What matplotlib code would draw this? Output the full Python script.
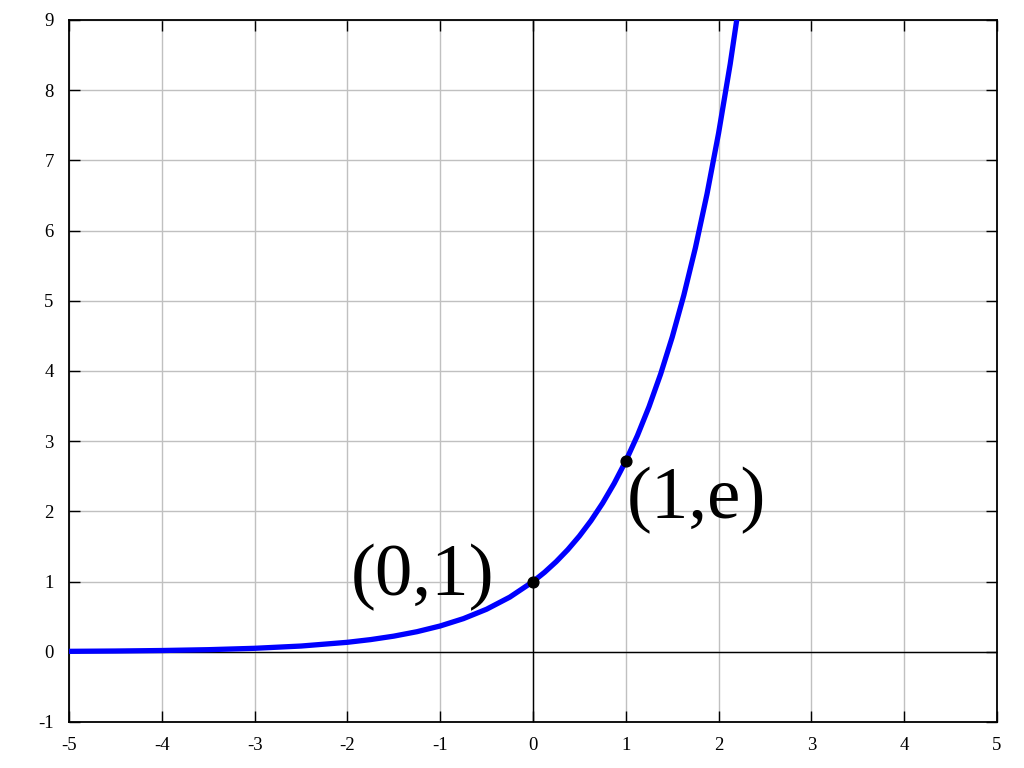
import matplotlib
matplotlib.use("Agg")
import matplotlib.pyplot as plt

# values (curve y = e^x)
curve_x = [-5, -4.5, -4, -3.5, -3, -2.5, -2, -1.75, -1.5, -1.25, -1, -0.75, -0.5, -0.25,
           0, 0.125, 0.25, 0.375, 0.5, 0.625, 0.75, 0.875, 1, 1.125, 1.25, 1.375, 1.5,
           1.625, 1.75, 1.875, 2, 2.125, 2.25]
curve_y = [0.0067, 0.0111, 0.0183, 0.0302, 0.0498, 0.0821, 0.1353, 0.1738, 0.2231, 0.2865,
           0.3679, 0.4724, 0.6065, 0.7788, 1.0, 1.133, 1.284, 1.455, 1.6487, 1.868, 2.117,
           2.399, 2.7183, 3.080, 3.4903, 3.955, 4.4817, 5.078, 5.7546, 6.521, 7.3891,
           8.373, 9.4877]
point_x = [0, 1]
point_y = [1.0, 2.7183]
point_labels = ["(0,1)", "(1,e)"]
xticks = [-5, -4, -3, -2, -1, 0, 1, 2, 3, 4, 5]
yticks = [-1, 0, 1, 2, 3, 4, 5, 6, 7, 8, 9]

plt.rcParams['font.family'] = ['Liberation Serif', 'DejaVu Serif']

fig = plt.figure(figsize=(10.24, 7.68), dpi=100)
ax = fig.add_axes([69/1024, 1-722/768, (997-69)/1024, (722-20)/768])

ax.set_xlim(-5, 5)
ax.set_ylim(-1, 9)
ax.set_xticks(xticks)
ax.set_yticks(yticks)
ax.set_xticklabels([str(t) for t in xticks])
ax.set_yticklabels([str(t) for t in yticks])
ax.grid(True, color='#c0c0c0', linewidth=1.0)
ax.set_axisbelow(True)
ax.tick_params(direction='in', length=8, width=1, top=True, right=True,
               labelsize=13.5, pad=11)
for s in ax.spines.values():
    s.set_linewidth(1.3)

ax.axhline(0, color='black', linewidth=1.0, zorder=1.5)
ax.axvline(0, color='black', linewidth=1.0, zorder=1.5)

ax.plot(curve_x, curve_y, color='#0000ff', linewidth=3.8, solid_capstyle='butt', zorder=3)
ax.scatter(point_x, point_y, s=60, color='black', zorder=4)

ax.text(point_x[0] - 0.42, point_y[0] - 0.2, point_labels[0], fontsize=54,
        ha='right', va='baseline', zorder=5)
ax.text(point_x[1] + 0.01, point_y[1] - 0.81, point_labels[1], fontsize=54,
        ha='left', va='baseline', zorder=5)

fig.savefig("out.png", dpi=100)
